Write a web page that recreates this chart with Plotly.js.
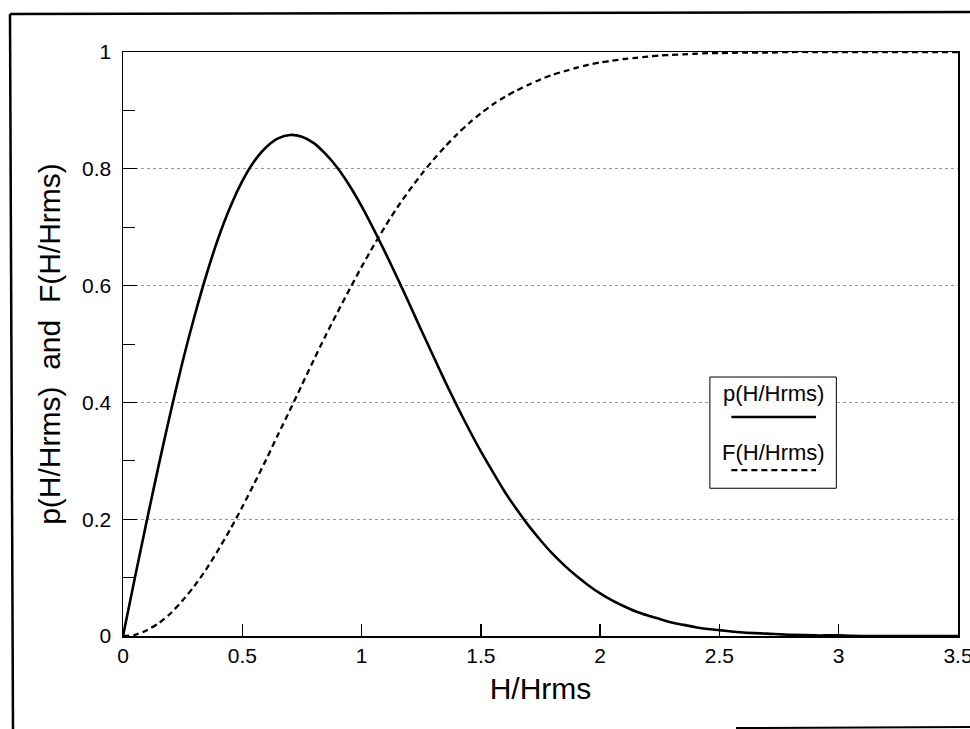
<!DOCTYPE html>
<html>
<head>
<meta charset="utf-8">
<script src="https://cdn.plot.ly/plotly-3.0.1.min.js"></script>
<style>
html,body{margin:0;padding:0;background:#fff;}
#chart{width:970px;height:729px;}
</style>
</head>
<body>
<div id="chart"></div>
<script>
// H/Hrms values
var hRatio = [0,0.05,0.1,0.15,0.2,0.25,0.3,0.35,0.4,0.45,0.5,0.55,0.6,0.65,0.7,0.75,0.8,0.85,0.9,0.95,
  1.0,1.05,1.1,1.15,1.2,1.25,1.3,1.35,1.4,1.45,1.5,1.55,1.6,1.65,1.7,1.75,1.8,1.85,1.9,1.95,
  2.0,2.05,2.1,2.15,2.2,2.25,2.3,2.35,2.4,2.45,2.5,2.6,2.7,2.8,2.9,3.0,3.1,3.2,3.3,3.4,3.5];
// probability density p(H/Hrms)
var pValues = [0,0.100,0.198,0.293,0.384,0.470,0.548,0.619,0.682,0.735,0.779,0.813,0.837,0.852,0.858,0.855,0.844,0.825,0.801,0.771,
  0.736,0.697,0.656,0.613,0.569,0.524,0.480,0.436,0.394,0.354,0.316,0.281,0.247,0.217,0.189,0.164,0.141,0.121,0.103,0.087,
  0.073,0.061,0.051,0.042,0.035,0.029,0.023,0.019,0.015,0.012,0.010,0.006,0.004,0.002,0.001,0.001,0,0,0,0,0];
// cumulative distribution F(H/Hrms)
var fValues = [0,0.002,0.010,0.022,0.039,0.061,0.086,0.115,0.148,0.183,0.221,0.261,0.302,0.345,0.387,0.430,0.473,0.515,0.555,0.594,
  0.632,0.668,0.702,0.734,0.763,0.790,0.815,0.838,0.859,0.878,0.895,0.910,0.923,0.934,0.944,0.953,0.961,0.967,0.973,0.978,
  0.982,0.985,0.988,0.990,0.992,0.994,0.995,0.996,0.997,0.998,0.998,0.999,0.999,1.0,1.0,1.0,1.0,1.0,1.0,1.0,1.0];
var seriesNames = ['p(H/Hrms)','F(H/Hrms)'];
var xTickVals = [0,0.5,1,1.5,2,2.5,3,3.5];
var xTickText = ['0','0.5','1','1.5','2','2.5','3','3.5'];
var yTickVals = [0,0.2,0.4,0.6,0.8,1];
var yTickText = ['0','0.2','0.4','0.6','0.8','1'];

var font = "'Liberation Sans', Arial, Helvetica, sans-serif";

var traces = [
  {x: hRatio, y: pValues, name: seriesNames[0], mode: 'lines',
   line: {color: '#000', width: 2.6, shape: 'spline', smoothing: 0.8}},
  {x: hRatio, y: fValues, name: seriesNames[1], mode: 'lines',
   line: {color: '#000', width: 2.3, dash: '6px,4px', shape: 'spline', smoothing: 0.8}}
];

// paper coordinates helpers for the outer frame
var L = 123, R = 958, T = 52, B = 636;
function px(x){ return (x - L) / (R - L); }
function py(y){ return (B - y) / (B - T); }

var layout = {
  width: 970, height: 729,
  margin: {l: L, r: 970 - R, t: T, b: 729 - B},
  paper_bgcolor: '#fff', plot_bgcolor: '#fff',
  showlegend: false,
  font: {family: font, color: '#000'},
  xaxis: {
    range: [0, 3.5], tickmode: 'array', tickvals: xTickVals, ticktext: xTickText,
    ticks: 'inside', ticklen: 12, tickwidth: 1.5, tickcolor: '#000',
    showline: true, linecolor: '#000', linewidth: 1.5, mirror: true,
    showgrid: false, zeroline: false,
    ticklabeloverflow: 'allow',
    tickfont: {size: 21, family: font},
    title: {text: 'H/Hrms', font: {size: 30, family: font}, standoff: 12},
    automargin: false
  },
  yaxis: {
    range: [0, 1], tickmode: 'array', tickvals: yTickVals, ticktext: yTickText,
    ticks: 'inside', ticklen: 14, tickwidth: 1.2, tickcolor: '#000',
    minor: {tickvals: [0.1,0.3,0.5,0.7,0.9], ticks: 'inside', ticklen: 12, tickwidth: 1, tickcolor: '#000', showgrid: false},
    showline: true, linecolor: '#000', linewidth: 1.5, mirror: true,
    showgrid: true, gridcolor: '#999', gridwidth: 1, griddash: 'dot',
    zeroline: false,
    tickfont: {size: 21, family: font},
    ticklabelstandoff: 6,
    title: {text: 'p(H/Hrms)  and  F(H/Hrms)', font: {size: 30, family: font}, standoff: 12},
    automargin: false
  },
  shapes: [
    // outer frame
    {type: 'line', xref: 'paper', yref: 'paper', x0: px(10), y0: py(14), x1: px(971), y1: py(12), line: {color: '#000', width: 2.5}},
    {type: 'line', xref: 'paper', yref: 'paper', x0: px(10), y0: py(14), x1: px(13), y1: py(730), line: {color: '#000', width: 2.5}},
    {type: 'line', xref: 'paper', yref: 'paper', x0: px(736), y0: py(728), x1: px(971), y1: py(727), line: {color: '#000', width: 2}},
    // legend box
    {type: 'rect', xref: 'x', yref: 'y', x0: 2.46, x1: 2.99, y0: 0.253, y1: 0.4435, fillcolor: '#fff', line: {color: '#000', width: 1}},
    {type: 'line', xref: 'x', yref: 'y', x0: 2.55, x1: 2.905, y0: 0.375, y1: 0.375, line: {color: '#000', width: 2.6}},
    {type: 'line', xref: 'x', yref: 'y', x0: 2.55, x1: 2.905, y0: 0.284, y1: 0.284, line: {color: '#000', width: 2.3, dash: '6px,4px'}}
  ],
  annotations: [
    {xref: 'x', yref: 'y', x: 2.725, y: 0.416, text: seriesNames[0], showarrow: false, font: {size: 22, family: font}, xanchor: 'center', yanchor: 'middle'},
    {xref: 'x', yref: 'y', x: 2.725, y: 0.315, text: seriesNames[1], showarrow: false, font: {size: 22, family: font}, xanchor: 'center', yanchor: 'middle'}
  ]
};

Plotly.newPlot('chart', traces, layout, {displayModeBar: false, staticPlot: true});
</script>
</body>
</html>
